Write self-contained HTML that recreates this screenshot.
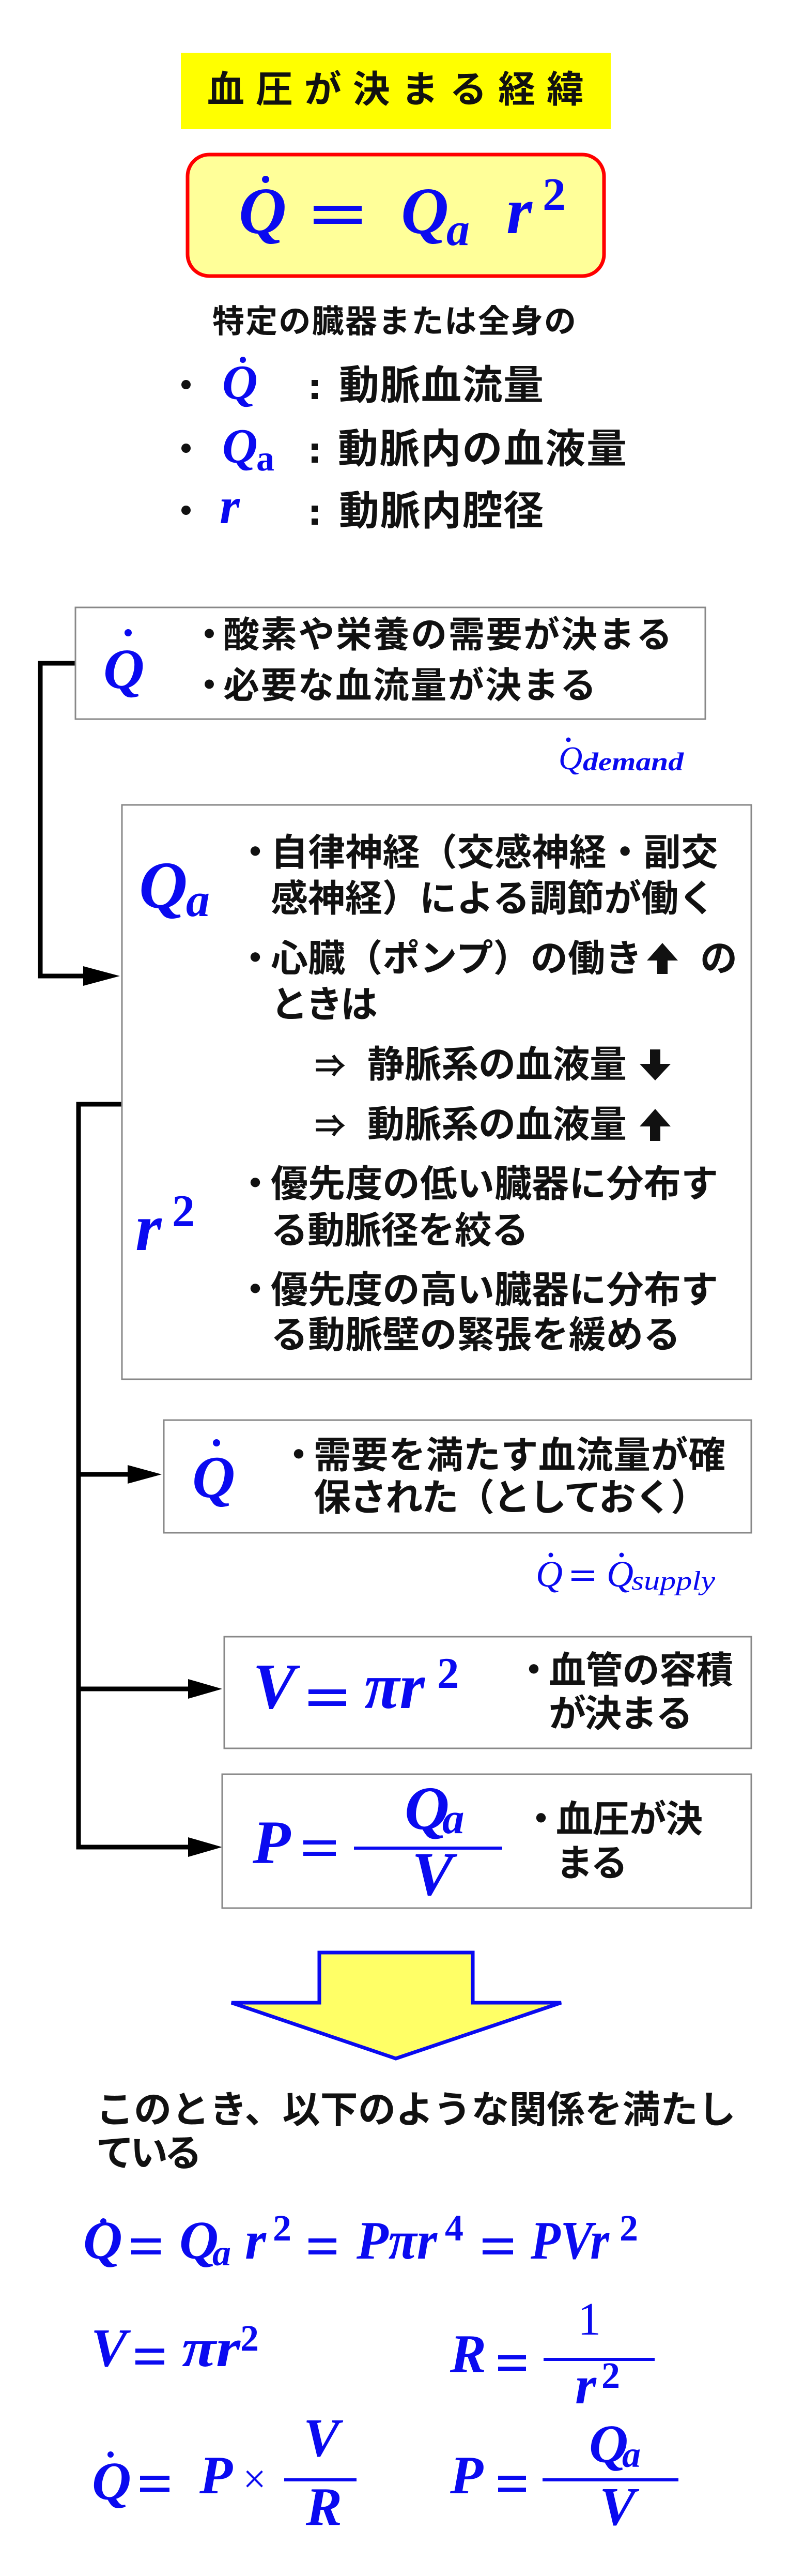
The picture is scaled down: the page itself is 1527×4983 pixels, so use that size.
<!DOCTYPE html>
<html><head><meta charset="utf-8"><style>
html,body{margin:0;padding:0;background:#fff;}
svg{display:block;}
.jp{font-family:"Liberation Sans","Noto Sans CJK JP",sans-serif;font-weight:bold;fill:#111;}
.m{font-family:"Liberation Serif",serif;font-weight:bold;font-style:italic;fill:#0a0af0;}
.mr{font-family:"Liberation Serif",serif;font-weight:bold;fill:#0a0af0;}
</style></head><body>
<svg width="1527" height="4983" viewBox="0 0 1527 4983" xmlns="http://www.w3.org/2000/svg">
<!-- title -->
<rect x="350" y="102" width="832" height="148" fill="#ffff00"/>
<text class="jp" x="401" y="198" font-size="72" textLength="729" lengthAdjust="spacing">血圧が決まる経緯</text>
<!-- red box -->
<rect x="363" y="299" width="806" height="235" rx="42" fill="#ffff99" stroke="#ff0000" stroke-width="7"/>
<text class="m" x="462" y="451" font-size="128">Q</text>
<circle cx="514" cy="347" r="7" fill="#0a0af0"/>
<rect x="607" y="398" width="93" height="10" fill="#0a0af0"/>
<rect x="607" y="423" width="93" height="10" fill="#0a0af0"/>
<text class="m" x="776" y="451" font-size="128">Q</text>
<text class="m" x="864" y="474" font-size="90">a</text>
<text class="m" x="980" y="451" font-size="128">r</text>
<text class="mr" x="1050" y="406" font-size="90">2</text>
<!-- description -->
<text class="jp" x="411" y="643" font-size="62" textLength="704" lengthAdjust="spacing">特定の臓器または全身の</text>
<circle cx="360" cy="744" r="9" fill="#111"/>
<circle cx="360" cy="867" r="9" fill="#111"/>
<circle cx="360" cy="987" r="9" fill="#111"/>
<text class="m" x="430" y="772" font-size="95">Q</text>
<circle cx="470" cy="696" r="6" fill="#0a0af0"/>
<text class="m" x="430" y="895" font-size="95">Q</text>
<text class="mr" x="496" y="910" font-size="70">a</text>
<text class="m" x="425" y="1012" font-size="100">r</text>
<rect x="603" y="735" width="12" height="12" fill="#111"/><rect x="603" y="760" width="12" height="12" fill="#111"/>
<rect x="603" y="858" width="12" height="12" fill="#111"/><rect x="603" y="883" width="12" height="12" fill="#111"/>
<rect x="603" y="978" width="12" height="12" fill="#111"/><rect x="603" y="1003" width="12" height="12" fill="#111"/>
<text class="jp" x="656" y="772" font-size="78" textLength="396" lengthAdjust="spacing">動脈血流量</text>
<text class="jp" x="654" y="895" font-size="78" textLength="559" lengthAdjust="spacing">動脈内の血液量</text>
<text class="jp" x="656" y="1015" font-size="78" textLength="396" lengthAdjust="spacing">動脈内腔径</text>

<!-- connectors -->
<g stroke="#000" stroke-width="9" fill="none">
<path d="M145 1283 H78 V1888 H170"/>
<path d="M235 2136 H152 V3573 H380"/>
<path d="M152 2852 H260"/>
<path d="M152 3267 H380"/>
</g>
<polygon points="161,1869 232,1888 161,1907" fill="#000"/>
<polygon points="247,2834 313,2852 247,2870" fill="#000"/>
<polygon points="364,3248 430,3267 364,3286" fill="#000"/>
<polygon points="364,3554 430,3573 364,3592" fill="#000"/>

<!-- box1 -->
<rect x="146" y="1175" width="1219" height="216" fill="#fff" stroke="#888" stroke-width="3"/>
<text class="m" x="200" y="1331" font-size="110">Q</text>
<circle cx="248" cy="1224" r="7" fill="#0a0af0"/>
<text class="jp" x="370" y="1252" font-size="70">・</text>
<text class="jp" x="370" y="1350" font-size="70">・</text>
<text class="jp" x="432" y="1252" font-size="70" textLength="869" lengthAdjust="spacing">酸素や栄養の需要が決まる</text>
<text class="jp" x="432" y="1350" font-size="70" textLength="722" lengthAdjust="spacing">必要な血流量が決まる</text>
<text class="m" x="1081" y="1488" font-size="64" style="font-weight:normal">Q</text>
<circle cx="1100" cy="1431" r="4.5" fill="#0a0af0"/>
<text class="m" x="1128" y="1490" font-size="50" textLength="195" lengthAdjust="spacingAndGlyphs">demand</text>

<!-- box2 -->
<rect x="236" y="1557" width="1218" height="1111" fill="#fff" stroke="#888" stroke-width="3"/>
<text class="m" x="269" y="1756" font-size="130">Q</text>
<text class="m" x="360" y="1772" font-size="92">a</text>
<text class="m" x="262" y="2418" font-size="130">r</text>
<text class="mr" x="333" y="2372" font-size="88">2</text>
<g class="jp" font-size="72">
<text x="458" y="1674">・</text>
<text x="524" y="1674" textLength="866" lengthAdjust="spacing">自律神経（交感神経・副交</text>
<text x="524" y="1763" textLength="861" lengthAdjust="spacing">感神経）による調節が働く</text>
<text x="458" y="1879">・</text>
<text x="524" y="1879" textLength="719" lengthAdjust="spacing">心臓（ポンプ）の働き</text>
<text x="1355" y="1879">の</text>
<text x="524" y="1968" textLength="207" lengthAdjust="spacing">ときは</text>
<text x="609" y="2084" font-size="60">⇒</text>
<text x="711" y="2084" textLength="502" lengthAdjust="spacing">静脈系の血液量</text>
<text x="609" y="2200" font-size="60">⇒</text>
<text x="711" y="2200" textLength="502" lengthAdjust="spacing">動脈系の血液量</text>
<text x="458" y="2315">・</text>
<text x="524" y="2315" textLength="866" lengthAdjust="spacing">優先度の低い臓器に分布す</text>
<text x="524" y="2405" textLength="499" lengthAdjust="spacing">る動脈径を絞る</text>
<text x="458" y="2520">・</text>
<text x="524" y="2520" textLength="866" lengthAdjust="spacing">優先度の高い臓器に分布す</text>
<text x="524" y="2607" textLength="793" lengthAdjust="spacing">る動脈壁の緊張を緩める</text>
</g>
<!-- up/down arrows -->
<polygon points="1282,1824 1312,1858 1292,1858 1292,1884 1272,1884 1272,1858 1252,1858" fill="#111"/>
<polygon points="1258,2030 1278,2030 1278,2058 1298,2058 1268,2090 1238,2058 1258,2058" fill="#111"/>
<polygon points="1268,2145 1298,2179 1278,2179 1278,2207 1258,2207 1258,2179 1238,2179" fill="#111"/>

<!-- box3 -->
<rect x="317" y="2747" width="1137" height="218" fill="#fff" stroke="#888" stroke-width="3"/>
<text class="m" x="372" y="2896" font-size="115">Q</text>
<circle cx="419" cy="2791" r="7" fill="#0a0af0"/>
<text class="jp" x="542" y="2840" font-size="72">・</text>
<text class="jp" x="607" y="2840" font-size="72" textLength="797" lengthAdjust="spacing">需要を満たす血流量が確</text>
<text class="jp" x="607" y="2922" font-size="72" textLength="763" lengthAdjust="spacing">保された（としておく）</text>
<text class="m" x="1037" y="3069" font-size="72" style="font-weight:normal">Q</text>
<circle cx="1066" cy="3008" r="4.5" fill="#0a0af0"/>
<rect x="1106" y="3038" width="44" height="5" fill="#0a0af0"/>
<rect x="1106" y="3053" width="44" height="5" fill="#0a0af0"/>
<text class="m" x="1174" y="3069" font-size="72" style="font-weight:normal">Q</text>
<circle cx="1203" cy="3008" r="4.5" fill="#0a0af0"/>
<text class="m" x="1222" y="3075" font-size="52" textLength="162" lengthAdjust="spacingAndGlyphs" style="font-weight:normal">supply</text>

<!-- box4 -->
<rect x="434" y="3166" width="1020" height="216" fill="#fff" stroke="#888" stroke-width="3"/>
<text class="m" x="489" y="3304" font-size="125">V</text>
<rect x="597" y="3268" width="73" height="9" fill="#0a0af0"/>
<rect x="597" y="3291" width="73" height="9" fill="#0a0af0"/>
<text class="m" x="705" y="3304" font-size="125">πr</text>
<text class="mr" x="846" y="3265" font-size="85">2</text>
<text class="jp" x="997" y="3256" font-size="72">・</text>
<text class="jp" x="1062" y="3256" font-size="72" textLength="357" lengthAdjust="spacing">血管の容積</text>
<text class="jp" x="1062" y="3340" font-size="72" textLength="279" lengthAdjust="spacing">が決まる</text>

<!-- box5 -->
<rect x="430" y="3432" width="1024" height="259" fill="#fff" stroke="#888" stroke-width="3"/>
<text class="m" x="489" y="3604" font-size="120">P</text>
<rect x="587" y="3560" width="63" height="8" fill="#0a0af0"/>
<rect x="587" y="3582" width="63" height="8" fill="#0a0af0"/>
<rect x="685" y="3572" width="287" height="6" fill="#0a0af0"/>
<text class="m" x="783" y="3538" font-size="120">Q</text>
<text class="m" x="856" y="3546" font-size="85">a</text>
<text class="m" x="797" y="3665" font-size="120">V</text>
<text class="jp" x="1011" y="3544" font-size="72">・</text>
<text class="jp" x="1076" y="3544" font-size="72" textLength="284" lengthAdjust="spacing">血圧が決</text>
<text class="jp" x="1076" y="3629" font-size="72" textLength="139" lengthAdjust="spacing">まる</text>

<!-- big arrow -->
<polygon points="618,3777 915,3777 915,3874 1086,3874 766,3982 448,3874 618,3874" fill="#ffff66" stroke="#0a0af0" stroke-width="7"/>

<text class="jp" x="186" y="4106" font-size="73" textLength="1238" lengthAdjust="spacing">このとき、以下のような関係を満たし</text>
<text class="jp" x="186" y="4190" font-size="73" textLength="205" lengthAdjust="spacing">ている</text>

<!-- equations row1 -->
<text class="m" x="161" y="4369" font-size="105">Q</text>
<circle cx="200" cy="4297" r="6" fill="#0a0af0"/>
<rect x="254" y="4330" width="57" height="8" fill="#0a0af0"/><rect x="254" y="4353" width="57" height="8" fill="#0a0af0"/>
<text class="m" x="347" y="4369" font-size="105">Q</text>
<text class="m" x="411" y="4382" font-size="72">a</text>
<text class="m" x="474" y="4369" font-size="105">r</text>
<text class="mr" x="528" y="4334" font-size="72">2</text>
<rect x="597" y="4330" width="54" height="8" fill="#0a0af0"/><rect x="597" y="4353" width="54" height="8" fill="#0a0af0"/>
<text class="m" x="690" y="4369" font-size="105" textLength="156" lengthAdjust="spacingAndGlyphs">Pπr</text>
<text class="mr" x="861" y="4334" font-size="72">4</text>
<rect x="934" y="4330" width="59" height="8" fill="#0a0af0"/><rect x="934" y="4353" width="59" height="8" fill="#0a0af0"/>
<text class="m" x="1027" y="4369" font-size="105" textLength="152" lengthAdjust="spacingAndGlyphs">PVr</text>
<text class="mr" x="1199" y="4334" font-size="72">2</text>

<!-- row2 -->
<text class="m" x="176" y="4577" font-size="105">V</text>
<rect x="262" y="4543" width="56" height="8" fill="#0a0af0"/><rect x="262" y="4566" width="56" height="8" fill="#0a0af0"/>
<text class="m" x="352" y="4577" font-size="105" textLength="113" lengthAdjust="spacingAndGlyphs">πr</text>
<text class="mr" x="465" y="4547" font-size="72">2</text>
<text class="m" x="871" y="4588" font-size="105">R</text>
<rect x="964" y="4556" width="54" height="8" fill="#0a0af0"/><rect x="964" y="4578" width="54" height="8" fill="#0a0af0"/>
<rect x="1052" y="4561" width="215" height="6" fill="#0a0af0"/>
<text class="mr" x="1118" y="4516" font-size="90" style="font-weight:normal">1</text>
<text class="m" x="1113" y="4649" font-size="105">r</text>
<text class="mr" x="1164" y="4619" font-size="72">2</text>

<!-- row3 -->
<text class="m" x="178" y="4835" font-size="105">Q</text>
<circle cx="214" cy="4748" r="6" fill="#0a0af0"/>
<rect x="271" y="4789" width="57" height="8" fill="#0a0af0"/><rect x="271" y="4812" width="57" height="8" fill="#0a0af0"/>
<text class="m" x="386" y="4823" font-size="105">P</text>
<text class="mr" x="470" y="4822" font-size="80" style="font-weight:normal">×</text>
<rect x="550" y="4794" width="140" height="6" fill="#0a0af0"/>
<text class="m" x="587" y="4751" font-size="105">V</text>
<text class="m" x="592" y="4884" font-size="105">R</text>
<text class="m" x="871" y="4823" font-size="105">P</text>
<rect x="964" y="4789" width="54" height="8" fill="#0a0af0"/><rect x="964" y="4812" width="54" height="8" fill="#0a0af0"/>
<rect x="1050" y="4794" width="263" height="6" fill="#0a0af0"/>
<text class="m" x="1140" y="4763" font-size="105">Q</text>
<text class="m" x="1204" y="4772" font-size="72">a</text>
<text class="m" x="1160" y="4884" font-size="105">V</text>
</svg>
</body></html>
